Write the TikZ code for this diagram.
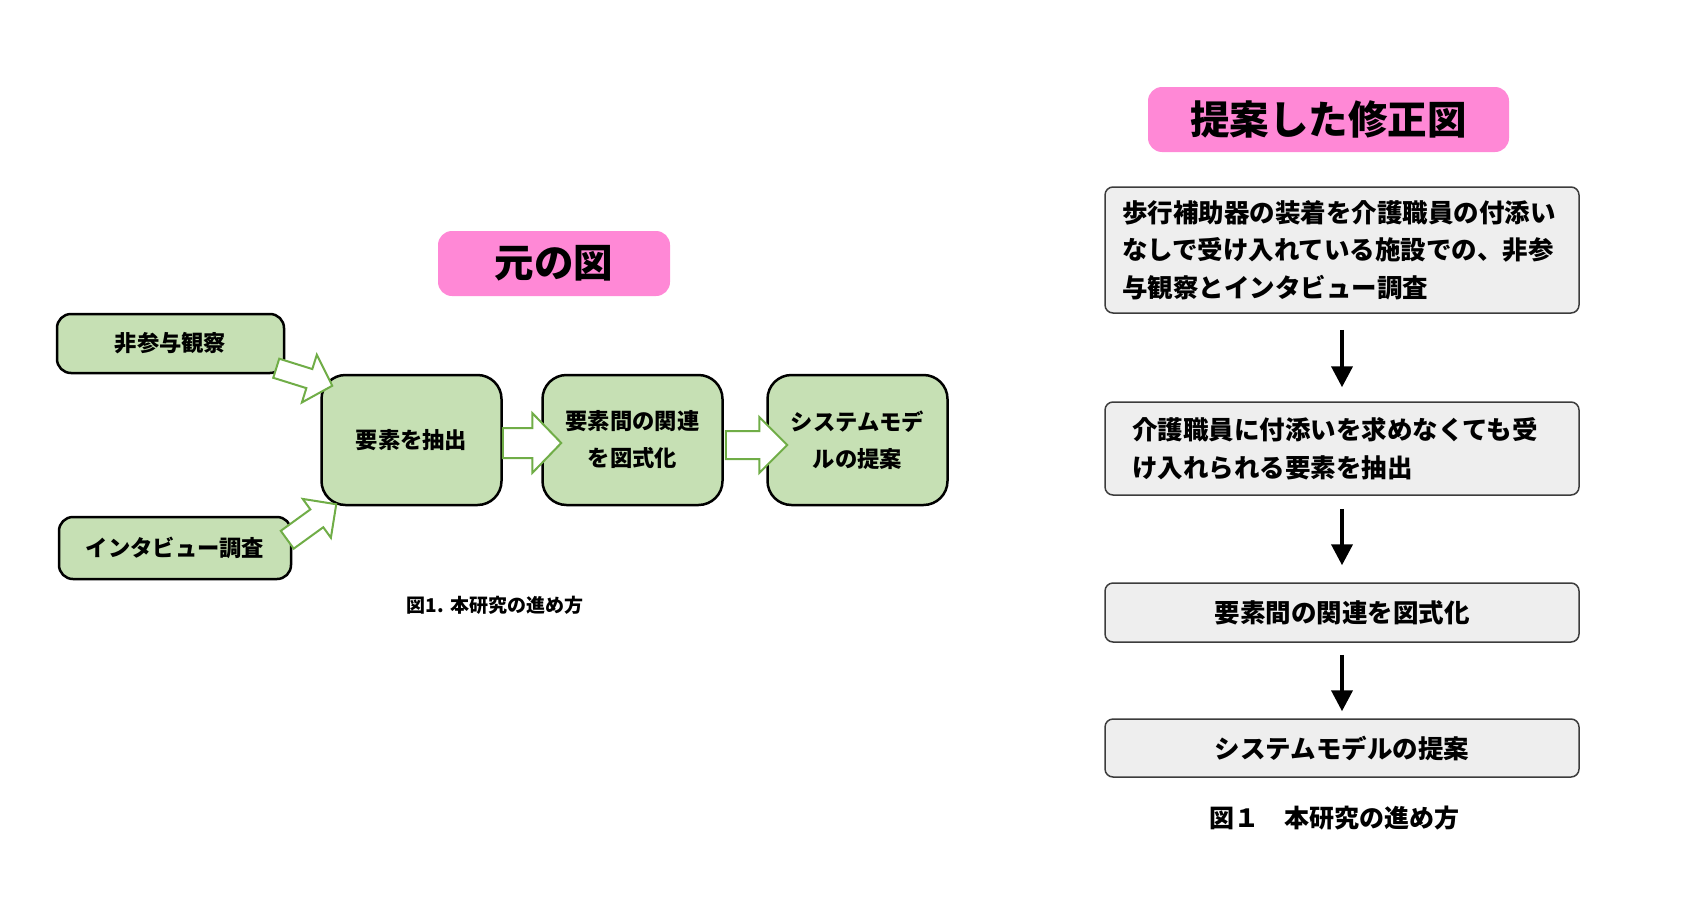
\documentclass[tikz,border=0pt]{standalone}
\usepackage{fontspec}
\usepackage{xcolor}
\usepackage{tikz}
\usetikzlibrary{arrows.meta,positioning,calc}
\newfontfamily\jp{Noto Sans CJK JP}
\definecolor{titlepink}{RGB}{255,136,214}
\definecolor{boxgreen}{RGB}{198,224,180}
\definecolor{arrowgreen}{RGB}{112,173,71}
\definecolor{boxgray}{RGB}{238,238,238}
\definecolor{edgegray}{RGB}{60,60,60}

% block arrow: tail, tip, shaft half width, head half width, head length
\newcommand{\blockarrow}[5]{%
  \coordinate (hb) at ($(#2)!#5!(#1)$);
  \draw[blockarr] ($(#1)!#3!90:(#2)$) -- ($(hb)!#3!-90:(#1)$) -- ($(hb)!#4!-90:(#1)$) -- (#2)
    -- ($(hb)!#4!90:(#1)$) -- ($(hb)!#3!90:(#1)$) -- ($(#1)!#3!-90:(#2)$) -- cycle;
}

\begin{document}
\begin{tikzpicture}[x=1pt, y=-1pt,
  titlebox/.style={fill=titlepink, rounded corners=14pt, minimum height=65pt, inner sep=0pt, font=\jp\bfseries\fontsize{39.5}{47}\selectfont},
  greenbox/.style={draw=black, line width=2.5pt, fill=boxgreen, inner sep=0pt, align=center, font=\jp\bfseries\fontsize{22.3}{37}\selectfont},
  smallbox/.style={greenbox, rounded corners=14pt},
  bigbox/.style={greenbox, rounded corners=24pt, minimum width=180pt, minimum height=130pt},
  blockarr/.style={draw=arrowgreen, line width=2pt, fill=white, line join=miter},
  flowbox/.style={draw=edgegray, line width=1.5pt, fill=boxgray, rounded corners=8pt, minimum width=474pt, inner sep=0pt, align=left, font=\jp\bfseries\fontsize{25.5}{37.5}\selectfont},
  flowarr/.style={line width=4pt, -{Triangle[width=21pt,length=21pt]}},
  figcap/.style={font=\jp\bfseries\fontsize{#1}{#1}\selectfont}]
  \useasboundingbox (0,0) rectangle (1696,918);
  % Left: original figure
  \node[titlebox, minimum width=232pt] (origtitle) at (554,263.5) {元の図};
  \node[smallbox, minimum width=227pt, minimum height=59pt] (obs) at (170.5,343.5) {非参与観察};
  \node[smallbox, minimum width=232pt, minimum height=62pt] (interview) at (175,548) {インタビュー調査};
  \node[bigbox] (extract) at (411.5,440) {要素を抽出};
  \node[bigbox] (relate) at (632.5,440) {要素間の関連\\を図式化};
  \node[bigbox] (sysmodel) at (857.5,440) {システムモデ\\ルの提案};
  \node[figcap=19] (origcap) at (495,605) {図1. 本研究の進め方};
  % Left: block arrows
  \coordinate (obs-out) at ($(obs.south east)+(-9,-6)$);
  \coordinate (extract-in1) at ($(extract.north west)+(12,12)$);
  \coordinate (interview-out) at ($(interview.north east)+(-5,24)$);
  \coordinate (extract-in2) at ($(extract.south west)+(16,-2)$);
  \coordinate (extract-out) at ($(extract.east)+(0,3)$);
  \coordinate (relate-in) at ($(relate.west)+(20,3)$);
  \coordinate (relate-out) at ($(relate.east)+(2,5)$);
  \coordinate (sysmodel-in) at ($(sysmodel.west)+(21,5)$);
  \blockarrow{obs-out}{extract-in1}{10pt}{25pt}{24pt}
  \blockarrow{interview-out}{extract-in2}{11pt}{24pt}{24pt}
  \blockarrow{extract-out}{relate-in}{15pt}{30pt}{29pt}
  \blockarrow{relate-out}{sysmodel-in}{14pt}{28pt}{28pt}
  % Right: proposed figure
  \node[titlebox, minimum width=361pt] (proptitle) at (1328.5,119.5) {提案した修正図};
  \node[flowbox, minimum height=126pt, inner xsep=17pt, text width=440pt] (step1) at (1342,250) {歩行補助器の装着を介護職員の付添い\\なしで受け入れている施設での、非参\\与観察とインタビュー調査};
  \node[flowbox, minimum height=93pt, inner xsep=27pt, text width=420pt] (step2) at (1342,448.5) {介護職員に付添いを求めなくても受\\け入れられる要素を抽出};
  \node[flowbox, minimum height=59pt, align=center] (step3) at (1342,612.5) {要素間の関連を図式化};
  \node[flowbox, minimum height=58pt, align=center] (step4) at (1342,748) {システムモデルの提案};
  \foreach \a/\b/\ss/\ee in {step1/step2/16pt/14pt, step2/step3/13pt/17pt, step3/step4/12pt/7pt}
    \draw[flowarr, shorten <=\ss, shorten >=\ee] (\a.south) -- (\b.north);
  \node[figcap=25] (propcap) at (1334,818) {図１　本研究の進め方};
\end{tikzpicture}
\end{document}
